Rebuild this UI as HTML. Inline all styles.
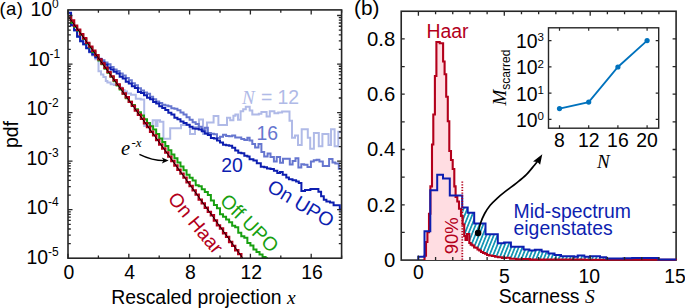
<!DOCTYPE html>
<html><head><meta charset="utf-8"><style>
html,body{margin:0;padding:0;background:#fff;width:685px;height:308px;overflow:hidden}
svg{display:block}
</style></head><body>
<svg xmlns="http://www.w3.org/2000/svg" width="685" height="308" viewBox="0 0 685 308">
<defs><clipPath id="ca"><rect x="68.0" y="9.9" width="273.60" height="248.30"/></clipPath><clipPath id="cb"><rect x="401.22" y="11.25" width="274.88" height="248.85"/></clipPath><pattern id="hatch" patternUnits="userSpaceOnUse" width="3.45" height="10" patternTransform="rotate(22)"><rect width="3.45" height="10" fill="#fff"/><rect x="0" y="0" width="1.75" height="10" fill="#1496b4"/></pattern></defs><g clip-path="url(#ca)" fill="none"><path d="M68.00,12.91H71.04V24.65H74.08V30.63H77.12V36.49H80.16V41.23H83.20V44.52H86.24V47.91H89.28V51.45H92.32V55.60H95.36V59.19H98.40V60.04H98.50V71.20H101.00V74.50H103.40V76.90H105.80V81.00H107.40V82.60H110.70V84.20H113.90V85.00H116.40V84.20H119.60V87.50H122.00V90.00H124.50V91.50H127.00V93.50H131.00V94.80H135.80V98.80H140.70V99.60H144.20V126.00H147.00V124.00H149.50V126.00H152.70V120.20H155.60V126.00H157.50V120.20H160.00V121.80H163.40V138.80H166.00V138.80H170.20V128.30H175.00V128.30H181.00V125.00H185.50V125.00H190.00V134.00H195.00V127.00H199.00V119.40H203.00V134.00H207.00V122.60H213.60V116.00H218.40V125.00H224.00V124.90H227.00V117.70H230.20V120.30H233.40V115.80H235.40V114.50H238.00V119.70H240.60V111.20H243.20V109.30H245.80V106.70H249.70V110.60H252.30V114.50H258.80V113.80H261.40V111.90H266.60V116.40H269.80V111.20H274.40V113.20H278.20V112.50H282.10V111.60H289.50V120.70H292.00V137.80H295.00V135.50H298.00V145.00H301.70V129.30H307.80V137.80H310.20V148.80H313.90V133.00H318.80V146.30H322.40V134.00H328.50V145.00H331.00V129.30H334.60V146.30H338.30V131.70H342.00" stroke="#b0bae7" stroke-width="2"/><path d="M68.00,13.15H71.04V25.16H74.08V30.60H77.12V36.01H80.16V40.71H83.20V44.09H86.24V48.10H89.28V52.14H92.32V54.44H95.36V57.43H98.40V58.87H101.44V60.26H104.48V62.43H107.52V64.29H110.56V66.91H113.60V69.45H116.64V70.90H119.68V73.56H122.72V75.39H125.76V78.04H128.80V80.22H131.84V83.26H134.88V85.25H137.92V88.27H140.96V90.47H144.00V92.55H147.04V93.84H150.08V96.85H153.12V99.27H156.16V101.55H159.20V102.92H162.24V104.74H165.28V105.45H168.32V106.14H171.36V108.18H174.40V108.72H177.44V110.32H180.48V112.41H183.52V114.41H186.56V117.19H189.60V119.87H192.64V122.24H195.68V123.96H198.72V126.70H201.76V129.62H204.80V127.77H207.84V132.97H210.88V133.67H213.92V134.26H216.96V138.02H220.00V136.83H223.04V134.75H226.08V135.97H229.12V136.28H232.16V135.54H235.20V137.52H238.24V137.56H241.28V138.88H244.32V140.06H247.36V137.74H249.60V140.50H252.30V144.00H255.10V147.40H258.50V144.00H261.40V151.90H264.20V156.50H267.60V153.60H270.50V157.00H273.90V161.60H276.70V157.00H280.10V162.70H283.00V158.80H286.40V158.80H289.80V164.40H292.60V161.00H295.50V158.30H298.40V167.60H301.30V164.20H304.10V164.80H307.50V167.00H310.90V161.40H313.80V160.20H316.60V159.70H319.40V161.40H322.80V165.90H325.70V165.90H329.10V159.10H332.50V162.50H335.30V163.60H338.80V168.80H341.60" stroke="#6676cf" stroke-width="2"/><path d="M68.00,12.83H71.04V25.14H74.08V30.04H77.12V36.63H80.16V41.34H83.20V44.30H86.24V48.25H89.28V51.70H92.32V54.48H95.36V57.34H98.40V59.05H101.44V62.57H104.48V64.40H107.52V67.83H110.56V69.51H113.60V71.64H116.64V73.62H119.68V76.82H122.72V78.51H125.76V81.79H128.80V83.45H131.84V86.13H134.88V87.89H137.92V91.89H140.96V93.11H144.00V95.14H147.04V97.76H150.08V99.22H153.12V102.03H156.16V103.40H159.20V106.26H162.24V107.91H165.28V109.89H168.32V112.67H171.36V114.61H174.40V117.71H177.44V119.37H180.48V121.39H183.52V123.05H186.56V124.70H189.60V126.68H192.64V128.41H195.68V128.81H198.72V129.54H201.76V131.30H204.80V133.43H207.84V135.06H210.88V137.95H213.92V138.57H216.96V140.43H220.00V142.56H223.04V144.71H226.08V145.24H229.12V145.87H232.16V147.66H235.20V150.45H238.24V152.75H241.28V153.15H244.32V155.78H247.36V156.60H249.60V159.30H253.40V160.50H256.80V163.30H260.80V166.70H264.20V167.30H267.00V168.40H270.50V169.00H273.90V170.70H277.30V173.00H280.00V172.10H282.70V174.80H286.30V177.50H288.90V179.30H292.50V180.20H296.10V181.40H298.80V182.90H301.40V190.90H305.00V190.00H310.40V189.10H318.40V191.80H321.10V196.30H323.80V199.80H326.40V201.60H330.00V202.50H333.60V205.20H337.10V205.20H339.80V209.60H341.60" stroke="#0d1eb0" stroke-width="2"/><path d="M68.00,18.11H71.04V22.71H74.08V26.87H77.12V30.55H80.16V34.82H83.20V38.95H86.24V43.48H89.28V47.50H92.32V51.94H95.36V55.37H98.40V60.59H101.44V64.29H104.48V68.73H107.52V72.69H110.56V76.82H113.60V81.27H116.64V85.58H119.68V89.48H122.72V93.69H125.76V98.15H128.80V101.81H131.84V105.11H134.88V109.18H137.92V112.36H140.96V115.48H144.00V119.31H147.04V122.91H150.08V126.19H153.12V129.61H156.16V134.09H159.20V138.38H162.24V142.06H165.28V145.94H168.32V150.30H171.36V154.43H174.40V158.15H177.44V162.43H180.48V166.60H183.52V170.31H186.56V174.83H189.60V177.81H192.64V180.41H195.68V185.21H198.72V186.37H201.76V189.13H204.80V192.09H207.84V195.02H210.88V200.43H213.92V204.99H216.96V208.22H220.00V214.26H223.04V216.74H226.08V219.56H229.12V222.35H232.16V225.85H235.20V227.34H238.24V232.72H241.28V236.33H244.32V237.83H247.36V243.02H250.40V245.56H253.44V249.60H256.48V251.93H259.52V254.58H262.56V256.96H265.60V258.32H268.00" stroke="#18a010" stroke-width="2"/><path d="M68.00,17.57H71.04V20.56H74.08V25.79H77.12V29.78H80.16V34.32H83.20V38.30H86.24V42.88H89.28V46.65H92.32V50.74H95.36V55.23H98.40V59.41H101.44V63.43H104.48V67.68H107.52V72.14H110.56V76.36H113.60V80.28H116.64V84.53H119.68V88.39H122.72V93.48H125.76V97.22H128.80V101.84H131.84V105.89H134.88V110.55H137.92V114.73H140.96V118.71H144.00V123.28H147.04V126.96H150.08V131.79H153.12V135.38H156.16V140.07H159.20V144.46H162.24V148.46H165.28V152.52H168.32V156.62H171.36V160.94H174.40V165.50H177.44V169.68H180.48V173.61H183.52V177.58H186.56V182.28H189.60V185.97H192.64V190.41H195.68V194.58H198.72V199.58H201.76V203.39H204.80V207.79H207.84V211.86H210.88V215.31H213.92V220.50H216.96V225.42H220.00V228.48H223.04V233.23H226.08V236.84H229.12V241.99H232.16V245.91H235.20V250.30H238.24V254.10H241.28V259.35H244.32V261.71H247.00" stroke="#b3001b" stroke-width="2.4"/><line x1="68" y1="16" x2="243.2" y2="258.6" stroke="#000" stroke-width="0.9"/></g><rect x="68.0" y="9.9" width="273.60" height="248.30" fill="none" stroke="#262626" stroke-width="1.6"/><path d="M68.00,258.2v-4.5M68.00,9.9v4.5M98.40,258.2v-2.8M98.40,9.9v2.8M128.80,258.2v-4.5M128.80,9.9v4.5M159.20,258.2v-2.8M159.20,9.9v2.8M189.60,258.2v-4.5M189.60,9.9v4.5M220.00,258.2v-2.8M220.00,9.9v2.8M250.40,258.2v-4.5M250.40,9.9v4.5M280.80,258.2v-2.8M280.80,9.9v2.8M311.20,258.2v-4.5M311.20,9.9v4.5M341.60,258.2v-2.8M341.60,9.9v2.8M68.0,15.50h4.5M341.60,15.50h-4.5M68.0,64.05h4.5M341.60,64.05h-4.5M68.0,49.43h2.8M341.60,49.43h-2.8M68.0,40.89h2.8M341.60,40.89h-2.8M68.0,34.82h2.8M341.60,34.82h-2.8M68.0,30.12h2.8M341.60,30.12h-2.8M68.0,26.27h2.8M341.60,26.27h-2.8M68.0,23.02h2.8M341.60,23.02h-2.8M68.0,20.20h2.8M341.60,20.20h-2.8M68.0,17.72h2.8M341.60,17.72h-2.8M68.0,112.60h4.5M341.60,112.60h-4.5M68.0,97.98h2.8M341.60,97.98h-2.8M68.0,89.44h2.8M341.60,89.44h-2.8M68.0,83.37h2.8M341.60,83.37h-2.8M68.0,78.67h2.8M341.60,78.67h-2.8M68.0,74.82h2.8M341.60,74.82h-2.8M68.0,71.57h2.8M341.60,71.57h-2.8M68.0,68.75h2.8M341.60,68.75h-2.8M68.0,66.27h2.8M341.60,66.27h-2.8M68.0,161.15h4.5M341.60,161.15h-4.5M68.0,146.53h2.8M341.60,146.53h-2.8M68.0,137.99h2.8M341.60,137.99h-2.8M68.0,131.92h2.8M341.60,131.92h-2.8M68.0,127.22h2.8M341.60,127.22h-2.8M68.0,123.37h2.8M341.60,123.37h-2.8M68.0,120.12h2.8M341.60,120.12h-2.8M68.0,117.30h2.8M341.60,117.30h-2.8M68.0,114.82h2.8M341.60,114.82h-2.8M68.0,209.70h4.5M341.60,209.70h-4.5M68.0,195.08h2.8M341.60,195.08h-2.8M68.0,186.54h2.8M341.60,186.54h-2.8M68.0,180.47h2.8M341.60,180.47h-2.8M68.0,175.77h2.8M341.60,175.77h-2.8M68.0,171.92h2.8M341.60,171.92h-2.8M68.0,168.67h2.8M341.60,168.67h-2.8M68.0,165.85h2.8M341.60,165.85h-2.8M68.0,163.37h2.8M341.60,163.37h-2.8M68.0,243.63h2.8M341.60,243.63h-2.8M68.0,235.09h2.8M341.60,235.09h-2.8M68.0,229.02h2.8M341.60,229.02h-2.8M68.0,224.32h2.8M341.60,224.32h-2.8M68.0,220.47h2.8M341.60,220.47h-2.8M68.0,217.22h2.8M341.60,217.22h-2.8M68.0,214.40h2.8M341.60,214.40h-2.8M68.0,211.92h2.8M341.60,211.92h-2.8" stroke="#262626" stroke-width="1.3" fill="none"/><text x="-0.40" y="15.00" font-family="'Liberation Sans', sans-serif" font-size="18.5" fill="#000" letter-spacing="0.3">(a)</text><text x="30.50" y="16.40" font-family="'Liberation Sans', sans-serif" font-size="19.4" fill="#000">10</text><text x="52.00" y="8.10" font-family="'Liberation Sans', sans-serif" font-size="12" fill="#000">0</text><text x="28.30" y="65.92" font-family="'Liberation Sans', sans-serif" font-size="19.4" fill="#000">10</text><text x="49.50" y="57.62" font-family="'Liberation Sans', sans-serif" font-size="12" fill="#000">-1</text><text x="26.40" y="115.44" font-family="'Liberation Sans', sans-serif" font-size="19.4" fill="#000">10</text><text x="48.00" y="107.14" font-family="'Liberation Sans', sans-serif" font-size="12" fill="#000">-2</text><text x="26.40" y="164.96" font-family="'Liberation Sans', sans-serif" font-size="19.4" fill="#000">10</text><text x="48.00" y="156.66" font-family="'Liberation Sans', sans-serif" font-size="12" fill="#000">-3</text><text x="26.40" y="214.48" font-family="'Liberation Sans', sans-serif" font-size="19.4" fill="#000">10</text><text x="48.00" y="206.18" font-family="'Liberation Sans', sans-serif" font-size="12" fill="#000">-4</text><text x="26.40" y="264.00" font-family="'Liberation Sans', sans-serif" font-size="19.4" fill="#000">10</text><text x="48.00" y="255.70" font-family="'Liberation Sans', sans-serif" font-size="12" fill="#000">-5</text><text x="68.80" y="279.30" font-family="'Liberation Sans', sans-serif" font-size="19.4" text-anchor="middle" fill="#000">0</text><text x="129.60" y="279.30" font-family="'Liberation Sans', sans-serif" font-size="19.4" text-anchor="middle" fill="#000">4</text><text x="190.40" y="279.30" font-family="'Liberation Sans', sans-serif" font-size="19.4" text-anchor="middle" fill="#000">8</text><text x="251.20" y="279.30" font-family="'Liberation Sans', sans-serif" font-size="19.4" text-anchor="middle" fill="#000">12</text><text x="312.00" y="279.30" font-family="'Liberation Sans', sans-serif" font-size="19.4" text-anchor="middle" fill="#000">16</text><text x="111.20" y="303.50" font-family="'Liberation Sans', sans-serif" font-size="19.4" fill="#000">Rescaled projection <tspan font-family="'Liberation Serif', serif" font-style="italic">x</tspan></text><text transform="translate(18.3,134.5) rotate(-90)" font-family="'Liberation Sans', sans-serif" font-size="19.4" text-anchor="middle" fill="#000">pdf</text><text x="242.00" y="103.50" font-family="'Liberation Serif', serif" font-size="19" fill="#b0bae7" font-style="italic">N</text><text x="260.90" y="103.50" font-family="'Liberation Sans', sans-serif" font-size="19.4" fill="#b0bae7">=</text><text x="277.50" y="103.50" font-family="'Liberation Sans', sans-serif" font-size="19.4" fill="#b0bae7">12</text><text x="256.50" y="140.20" font-family="'Liberation Sans', sans-serif" font-size="19.4" fill="#6676cf">16</text><text x="221.30" y="172.20" font-family="'Liberation Sans', sans-serif" font-size="19.4" fill="#0d1eb0">20</text><text transform="translate(266,190.3) rotate(31)" font-family="'Liberation Sans', sans-serif" font-size="19.4" fill="#0d1eb0">On UPO</text><text transform="translate(219,202) rotate(45)" font-family="'Liberation Sans', sans-serif" font-size="19.4" fill="#18a010">Off UPO</text><text transform="translate(167,199) rotate(50)" font-family="'Liberation Sans', sans-serif" font-size="19.4" fill="#b3001b">On Haar</text><text x="121.00" y="154.70" font-family="'Liberation Serif', serif" font-size="20.5" fill="#000" font-style="italic">e</text><text x="131.50" y="146.70" font-family="'Liberation Serif', serif" font-size="13" fill="#000" font-style="italic">-x</text><path d="M139.4,154.3 C148,158.5 156,160.6 164,160.6" fill="none" stroke="#000" stroke-width="1.4"/><path d="M168.6,160.6 L161.8,157.6 L163.5,160.6 L161.8,163.6 Z" fill="#000"/><rect x="401.22" y="11.25" width="274.88" height="248.85" fill="none" stroke="#262626" stroke-width="1.6"/><clipPath id="pinkclip"><rect x="401.21999999999997" y="0" width="61.08" height="260.10"/></clipPath><path d="M424.50,260.10 L424.50,255.70 L426.00,255.70 L426.00,242.00 L427.40,242.00 L427.40,232.30 L429.00,232.30 L429.00,213.70 L430.40,213.70 L430.40,186.40 L432.00,186.40 L432.00,144.50 L433.30,144.50 L433.30,114.50 L434.90,114.50 L434.90,76.00 L436.40,76.00 L436.40,42.00 L439.70,42.00 L439.70,43.30 L443.10,43.30 V61.50 H444.60 V74.30 H446.20 V96.80 H447.80 V121.20 H449.30 V151.00 H451.00 V160.00 H452.70 V169.00 H454.30 V186.40 H455.60 V197.00 H457.30 V201.50 H459.00 V208.70 H461.00 V216.00 H462.60 V224.50 H464.20 V236.00 H465.50 V240.00 H467.00 V234.00 H469.30 V243.00 H470.70 V244.60 H472.40 V245.50 H474.10 V247.50 H475.80 V247.80 H477.50 V249.50 H479.20 V250.50 H481.00 V252.00 H483.00 V253.00 H485.00 V253.80 H487.00 V255.00 H489.00 V255.50 H492.00 V256.00 H495.00 V256.80 H498.00 V257.20 H502.00 V258.00 H506.00 V257.80 H510.00 V258.70 H516.00 V259.20 H522.00 V259.00 H530.00 V259.60 H545.00 V259.50 H585.00 V259.80 H676.00 V260.10 V260.1 Z" fill="#ffdde2" stroke="none" clip-path="url(#pinkclip)"/><clipPath id="hclip"><rect x="462.3" y="0" width="213.80" height="260.10"/></clipPath><path d="M418.30,260.1 V256.70 H424.50 V231.30 H430.30 V190.30 H437.20 V174.70 H443.00 V178.60 H449.80 V195.50 H462.20 V207.50 H467.70 V212.70 H474.20 V223.40 H485.50 V234.30 H497.80 V243.30 H504.10 V242.50 H510.90 V246.80 H523.60 V249.60 H529.40 V250.40 H534.80 V249.80 H541.60 V251.40 H548.30 V253.60 H554.50 V255.10 H561.00 V256.20 H574.20 V256.70 H577.70 V255.60 H584.30 V256.70 H590.00 V256.20 H600.00 V257.20 H606.20 V258.40 H623.50 V258.20 H632.20 V258.00 H658.30 V259.60 H676.10 V260.1 Z" fill="url(#hatch)" stroke="none" clip-path="url(#hclip)"/><path d="M424.50,260.10 L424.50,255.70 L426.00,255.70 L426.00,242.00 L427.40,242.00 L427.40,232.30 L429.00,232.30 L429.00,213.70 L430.40,213.70 L430.40,186.40 L432.00,186.40 L432.00,144.50 L433.30,144.50 L433.30,114.50 L434.90,114.50 L434.90,76.00 L436.40,76.00 L436.40,42.00 L439.70,42.00 L439.70,43.30 L443.10,43.30 V61.50 H444.60 V74.30 H446.20 V96.80 H447.80 V121.20 H449.30 V151.00 H451.00 V160.00 H452.70 V169.00 H454.30 V186.40 H455.60 V197.00 H457.30 V201.50 H459.00 V208.70 H461.00 V216.00 H462.60 V224.50 H464.20 V236.00 H465.50 V240.00 H467.00 V234.00 H469.30 V243.00 H470.70 V244.60 H472.40 V245.50 H474.10 V247.50 H475.80 V247.80 H477.50 V249.50 H479.20 V250.50 H481.00 V252.00 H483.00 V253.00 H485.00 V253.80 H487.00 V255.00 H489.00 V255.50 H492.00 V256.00 H495.00 V256.80 H498.00 V257.20 H502.00 V258.00 H506.00 V257.80 H510.00 V258.70 H516.00 V259.20 H522.00 V259.00 H530.00 V259.60 H545.00 V259.50 H585.00 V259.80 H676.00 V260.10 V262.1 H676.0999999999999 Z" fill="#fff" stroke="none" clip-path="url(#hclip)"/><path d="M424.50,260.10 L424.50,255.70 L426.00,255.70 L426.00,242.00 L427.40,242.00 L427.40,232.30 L429.00,232.30 L429.00,213.70 L430.40,213.70 L430.40,186.40 L432.00,186.40 L432.00,144.50 L433.30,144.50 L433.30,114.50 L434.90,114.50 L434.90,76.00 L436.40,76.00 L436.40,42.00 L439.70,42.00 L439.70,43.30 L443.10,43.30 V61.50 H444.60 V74.30 H446.20 V96.80 H447.80 V121.20 H449.30 V151.00 H451.00 V160.00 H452.70 V169.00 H454.30 V186.40 H455.60 V197.00 H457.30 V201.50 H459.00 V208.70 H461.00 V216.00 H462.60 V224.50 H464.20 V236.00 H465.50 V240.00 H467.00 V234.00 H469.30 V243.00 H470.70 V244.60 H472.40 V245.50 H474.10 V247.50 H475.80 V247.80 H477.50 V249.50 H479.20 V250.50 H481.00 V252.00 H483.00 V253.00 H485.00 V253.80 H487.00 V255.00 H489.00 V255.50 H492.00 V256.00 H495.00 V256.80 H498.00 V257.20 H502.00 V258.00 H506.00 V257.80 H510.00 V258.70 H516.00 V259.20 H522.00 V259.00 H530.00 V259.60 H545.00 V259.50 H585.00 V259.80 H676.00 V260.10" fill="none" stroke="#b3001b" stroke-width="2.1"/><path d="M418.30,260.1 V256.70 H424.50 V231.30 H430.30 V190.30 H437.20 V174.70 H443.00 V178.60 H449.80 V195.50 H462.20 V207.50 H467.70 V212.70 H474.20 V223.40 H485.50 V234.30 H497.80 V243.30 H504.10 V242.50 H510.90 V246.80 H523.60 V249.60 H529.40 V250.40 H534.80 V249.80 H541.60 V251.40 H548.30 V253.60 H554.50 V255.10 H561.00 V256.20 H574.20 V256.70 H577.70 V255.60 H584.30 V256.70 H590.00 V256.20 H600.00 V257.20 H606.20 V258.40 H623.50 V258.20 H632.20 V258.00 H658.30 V259.60 H676.10" fill="none" stroke="#0d1eb0" stroke-width="2.0"/><line x1="462.3" y1="181.4" x2="462.3" y2="260.1" stroke="#b3001b" stroke-width="1.8" stroke-dasharray="1.3,1.45"/><path d="M418.40,260.1v-4.5M418.40,11.25v4.5M435.58,260.1v-3.0M435.58,11.25v3.0M452.76,260.1v-3.0M452.76,11.25v3.0M469.94,260.1v-3.0M469.94,11.25v3.0M487.12,260.1v-3.0M487.12,11.25v3.0M504.30,260.1v-4.5M504.30,11.25v4.5M521.48,260.1v-3.0M521.48,11.25v3.0M538.66,260.1v-3.0M538.66,11.25v3.0M555.84,260.1v-3.0M555.84,11.25v3.0M573.02,260.1v-3.0M573.02,11.25v3.0M590.20,260.1v-4.5M590.20,11.25v4.5M607.38,260.1v-3.0M607.38,11.25v3.0M624.56,260.1v-3.0M624.56,11.25v3.0M641.74,260.1v-3.0M641.74,11.25v3.0M658.92,260.1v-3.0M658.92,11.25v3.0M401.22,232.45h3.5M676.10,232.45h-3.5M401.22,204.80h3.5M676.10,204.80h-3.5M401.22,177.15h3.5M676.10,177.15h-3.5M401.22,149.50h3.5M676.10,149.50h-3.5M401.22,121.85h3.5M676.10,121.85h-3.5M401.22,94.20h3.5M676.10,94.20h-3.5M401.22,66.55h3.5M676.10,66.55h-3.5M401.22,38.90h3.5M676.10,38.90h-3.5" stroke="#262626" stroke-width="1.3" fill="none"/><text x="354.00" y="14.80" font-family="'Liberation Sans', sans-serif" font-size="20.8" fill="#000">(b)</text><text x="395.20" y="267.00" font-family="'Liberation Sans', sans-serif" font-size="20.3" text-anchor="end" fill="#000">0</text><text x="395.20" y="211.70" font-family="'Liberation Sans', sans-serif" font-size="20.3" text-anchor="end" fill="#000">0.2</text><text x="395.20" y="156.40" font-family="'Liberation Sans', sans-serif" font-size="20.3" text-anchor="end" fill="#000">0.4</text><text x="395.20" y="101.10" font-family="'Liberation Sans', sans-serif" font-size="20.3" text-anchor="end" fill="#000">0.6</text><text x="395.20" y="45.80" font-family="'Liberation Sans', sans-serif" font-size="20.3" text-anchor="end" fill="#000">0.8</text><text x="418.40" y="279.40" font-family="'Liberation Sans', sans-serif" font-size="19.4" text-anchor="middle" fill="#000">0</text><text x="504.30" y="282.60" font-family="'Liberation Sans', sans-serif" font-size="19.4" text-anchor="middle" fill="#000">5</text><text x="589.20" y="282.60" font-family="'Liberation Sans', sans-serif" font-size="19.4" text-anchor="middle" fill="#000">10</text><text x="675.10" y="282.60" font-family="'Liberation Sans', sans-serif" font-size="19.4" text-anchor="middle" fill="#000">15</text><text x="498.70" y="302.90" font-family="'Liberation Sans', sans-serif" font-size="19.4" fill="#000">Scarness <tspan font-family="'Liberation Serif', serif" font-style="italic">S</tspan></text><text x="426.50" y="37.60" font-family="'Liberation Sans', sans-serif" font-size="19.4" fill="#b3001b">Haar</text><text transform="translate(458.4,254.3) rotate(-90)" font-family="'Liberation Sans', sans-serif" font-size="18.5" fill="#b3001b">90%</text><text font-family="'Liberation Sans', sans-serif" font-size="19.4" fill="#0d1eb0"><tspan x="513.5" y="218.3">Mid-spectrum</tspan><tspan x="513.5" y="235.3">eigenstates</tspan></text><path d="M478.10,233.10 C478.50,231.45 479.40,226.47 480.50,223.20 C481.60,219.93 483.08,216.50 484.70,213.50 C486.32,210.50 488.13,207.73 490.20,205.20 C492.27,202.67 494.57,200.60 497.10,198.30 C499.63,196.00 502.18,193.93 505.40,191.40 C508.62,188.87 512.95,185.85 516.40,183.10 C519.85,180.35 523.10,177.88 526.10,174.90 C529.10,171.92 532.45,167.52 534.40,165.20 C536.35,162.88 537.23,161.70 537.80,161.00" fill="none" stroke="#000" stroke-width="1.7"/><path d="M542.3,154.3 L533,161.4 L537.5,162 L540.1,164.7 Z" fill="#000"/><circle cx="478.1" cy="233.1" r="3.3" fill="#000"/><rect x="548.5" y="27.8" width="110.20" height="100.40" fill="#fff" stroke="#262626" stroke-width="1.4"/><path d="M559.50,128.2v-3M559.50,27.8v3M588.70,128.2v-3M588.70,27.8v3M617.90,128.2v-3M617.90,27.8v3M647.10,128.2v-3M647.10,27.8v3M548.5,119.40h3M658.7,119.40h-3M548.5,93.13h3M658.7,93.13h-3M548.5,66.86h3M658.7,66.86h-3M548.5,40.59h3M658.7,40.59h-3" stroke="#262626" stroke-width="1.2" fill="none"/><polyline points="559.50,108.60 588.70,102.09 617.90,66.99 647.10,40.59" fill="none" stroke="#0072bd" stroke-width="1.8"/><circle cx="559.50" cy="108.60" r="2.6" fill="#0072bd"/><circle cx="588.70" cy="102.09" r="2.6" fill="#0072bd"/><circle cx="617.90" cy="66.99" r="2.6" fill="#0072bd"/><circle cx="647.10" cy="40.59" r="2.6" fill="#0072bd"/><text x="515.95" y="127.00" font-family="'Liberation Sans', sans-serif" font-size="19.4" fill="#000">10</text><text x="537.60" y="120.30" font-family="'Liberation Sans', sans-serif" font-size="11.5" fill="#000">0</text><text x="515.95" y="100.73" font-family="'Liberation Sans', sans-serif" font-size="19.4" fill="#000">10</text><text x="537.60" y="94.03" font-family="'Liberation Sans', sans-serif" font-size="11.5" fill="#000">1</text><text x="515.95" y="74.46" font-family="'Liberation Sans', sans-serif" font-size="19.4" fill="#000">10</text><text x="537.60" y="67.76" font-family="'Liberation Sans', sans-serif" font-size="11.5" fill="#000">2</text><text x="515.95" y="48.19" font-family="'Liberation Sans', sans-serif" font-size="19.4" fill="#000">10</text><text x="537.60" y="41.49" font-family="'Liberation Sans', sans-serif" font-size="11.5" fill="#000">3</text><text x="559.50" y="147.30" font-family="'Liberation Sans', sans-serif" font-size="19.4" text-anchor="middle" fill="#000">8</text><text x="588.70" y="147.30" font-family="'Liberation Sans', sans-serif" font-size="19.4" text-anchor="middle" fill="#000">12</text><text x="617.90" y="147.30" font-family="'Liberation Sans', sans-serif" font-size="19.4" text-anchor="middle" fill="#000">16</text><text x="647.10" y="147.30" font-family="'Liberation Sans', sans-serif" font-size="19.4" text-anchor="middle" fill="#000">20</text><text x="597.10" y="167.50" font-family="'Liberation Serif', serif" font-size="19" fill="#000" font-style="italic">N</text><text transform="translate(505.5,105.5) rotate(-90)" fill="#000"><tspan font-family="'Liberation Serif', serif" font-style="italic" font-size="19">M</tspan><tspan font-family="'Liberation Sans', sans-serif" font-size="12" dy="4.5">scarred</tspan></text>
</svg>
</body></html>
